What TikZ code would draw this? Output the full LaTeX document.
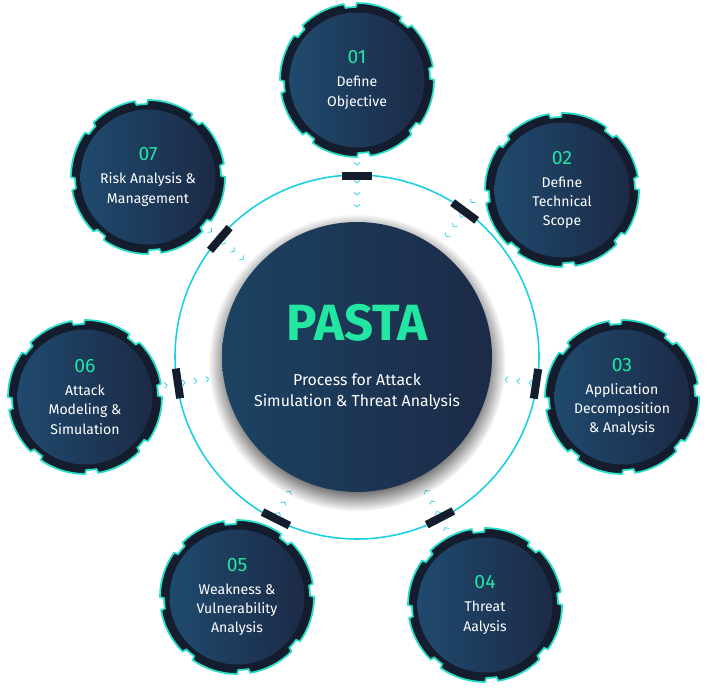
\documentclass[tikz,border=0pt]{standalone}
\usepackage{fontspec}
\setmainfont{Fira Sans}
\usetikzlibrary{shadows,shadings}
\definecolor{deepnavy}{HTML}{141D2E}
\definecolor{coreblue}{HTML}{1F4A6E}
\definecolor{coredark}{HTML}{1C2A46}
\definecolor{mint}{HTML}{22E6A2}
\definecolor{ringcyan}{HTML}{1BCFE0}
\definecolor{ringgreen}{HTML}{2EE8B4}
\tikzstyle{core} = [circle, minimum size=2.7cm, inner sep=0pt, left color=coreblue, right color=coredark, align=center, text=white, font=\fontsize{8}{11}\selectfont]
\tikzstyle{hub} = [circle, minimum size=5.4cm, inner sep=0pt, left color=coreblue!90!black, right color=coredark, circular drop shadow={shadow xshift=0pt, shadow yshift=-3pt, fill=black!60}, align=center, text=white]
\tikzstyle{ringline} = [draw=ringcyan, line width=0.9pt]
\tikzstyle{chev} = [ringcyan, line width=0.4pt]
\newcommand{\gear}[1]{%
  \fill[deepnavy, draw=ringgreen!60!ringcyan, line width=1pt]
    ([shift={#1}]10:77) \foreach \i in {0,...,7}{
      arc[start angle=45*\i+10, end angle=45*\i+45, radius=77]
      -- ([shift={#1}]45*\i+46:73)
      arc[start angle=45*\i+46, end angle=45*\i+54, radius=73]
      -- ([shift={#1}]45*\i+55:77)} -- cycle;}
\newcommand{\stepno}[1]{{\color{mint}\fontsize{11}{13}\selectfont #1}\\[2pt]}
\begin{document}
\begin{tikzpicture}[x=0.02cm, y=0.02cm]
\useasboundingbox (0,0) rectangle (715,699);
% outer ring with gates
\draw[ringline] (357,342) circle[radius=182];
\foreach \a in {90,53.5,-8.5,-62.7,-116.6,-171.6,139.3}{
  \fill[deepnavy, rotate around={\a:(357,342)}] (357+177,342-15) rectangle (357+185,342+15);
  \foreach \r in {150,162,174,192}
    \draw[chev, rotate around={\a:(357,342)}] (357+\r+2.5,342-3) -- (357+\r,342) -- (357+\r+2.5,342+3);
}
% hub
\node[hub] (pasta) at (357,342) {{\color{mint}\fontsize{29}{32}\selectfont\bfseries PASTA}\\[14pt]
  \fontsize{9}{14}\selectfont Process for Attack\\\fontsize{9}{14}\selectfont Simulation \& Threat Analysis};
% stages
\gear{(357,619)} \node[core] (objective) at (357,619) {\stepno{01}Define\\Objective};
\gear{(562,509)} \node[core] (scope) at (562,509) {\stepno{02}Define\\Technical\\Scope};
\gear{(622,302)} \node[core] (decomp) at (622,302) {\stepno{03}Application\\Decomposition\\\& Analysis};
\gear{(485,94)}  \node[core] (threat) at (485,94) {\stepno{04}Threat\\Aalysis};
\gear{(237,102)} \node[core] (weakness) at (237,102) {\stepno{05}Weakness \&\\Vulnerability\\Analysis};
\gear{(85,302)}  \node[core] (attack) at (85,302) {\stepno{06}Attack\\Modeling \&\\Simulation};
\gear{(148,522)} \node[core] (risk) at (148,522) {\stepno{07}Risk Analysis \&\\Management};
\end{tikzpicture}
\end{document}
